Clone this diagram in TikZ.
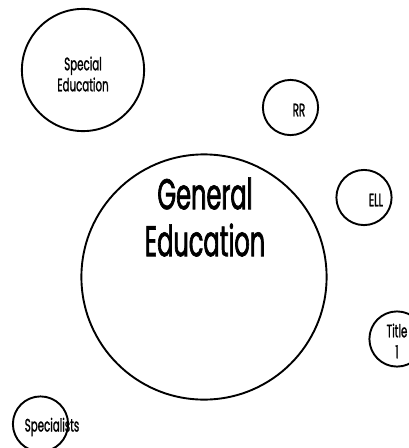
\documentclass[tikz,border=0pt]{standalone}
\usepackage{fontspec}
\setmainfont{Poppins}
\newfontfamily\smallfont[FakeStretch=0.57,FakeBold=1.2]{Poppins}
\newfontfamily\bigfont[FakeStretch=0.56,FakeBold=1.5]{Poppins}
\begin{document}
\begin{tikzpicture}[x=1pt,y=-1pt,
  bub/.style={circle,draw,line width=1.9pt,minimum size=#1,inner sep=0pt},
  lab/.style={inner sep=0pt,align=center,font=\smallfont\fontsize{18}{21}\selectfont},
  biglab/.style={inner sep=0pt,align=center,font=\bigfont\fontsize{43}{47}\selectfont}]
\useasboundingbox (0,0) rectangle (408,448);
\node[bub=122.2pt] (sped) at (83,70) {};
\node[bub=245.2pt] (gened) at (204,277) {};
\node[bub=55.2pt] (rr) at (290.5,107.5) {};
\node[bub=55.2pt] (ell) at (364,197.5) {};
\node[bub=55.2pt] (title) at (397,339) {};
\node[bub=55.2pt] (spec) at (40.5,424) {};
\node[lab] (spedt) at (83,74) {Special\\Education};
\node[biglab] (genedt) at (205,217) {General\\Education};
\node[lab] (rrt) at (299,110) {RR};
\node[lab] (ellt) at (376,200) {ELL};
\node[lab] (titlet) at (397,341) {Title\\1};
\node[lab] (spect) at (52,427) {Specialists};
\end{tikzpicture}
\end{document}
